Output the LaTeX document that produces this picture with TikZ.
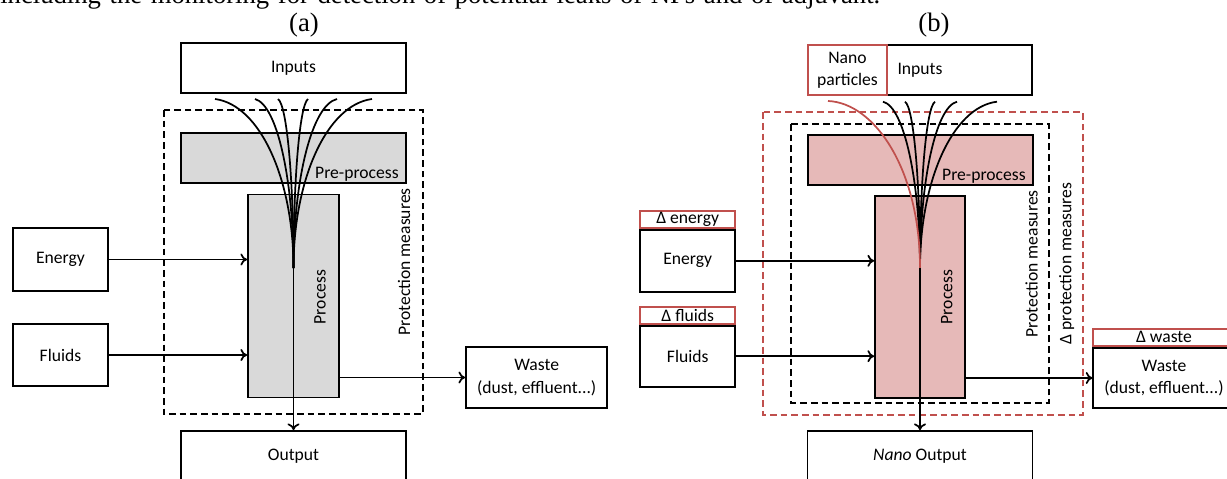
\documentclass[tikz,border=0pt]{standalone}
\usepackage{fontspec}
\setmainfont{Carlito}
\newfontfamily\serifhead{Liberation Serif}
\usetikzlibrary{positioning,calc,arrows.meta}
\newcommand{\diagfont}{\fontsize{13.2pt}{16.8pt}\selectfont}
\newcommand{\headfont}{\serifhead\fontsize{20pt}{24pt}\selectfont}
\definecolor{procgray}{HTML}{D9D9D9}
\definecolor{nanopink}{HTML}{E6B9B8}
\definecolor{nanored}{HTML}{C0504D}

\tikzset{
  wbox/.style={draw, line width=1.4pt, inner sep=0pt, align=center, font=\diagfont},
  redhead/.style={draw=nanored, line width=1.4pt, fill=white, inner sep=0pt,
                  align=center, font=\diagfont},
  flow/.style={line width=1.3pt},
  nanoflow/.style={line width=1.3pt, draw=nanored},
  feed/.style={line width=1.3pt, -{To[length=5pt,width=9pt]}},
  protect/.style={line width=1.3pt, dash pattern=on 5pt off 3pt},
  vtext/.style={rotate=90, font=\diagfont, inner sep=0pt}
}

\begin{document}
\begin{tikzpicture}[x=0.75pt,y=-0.75pt]
  \useasboundingbox (0,0) rectangle (1227,478);
  \clip (0,0) rectangle (1227,478);

  % cut-off caption line and panel headings
  \node[font=\headfont, anchor=base west, inner sep=0pt] (caption) at (0,4)
    {\makebox[660pt][s]{including the monitoring for detection of potential leaks of NPs and of adjuvant.}};
  \node[font=\headfont] (hdA) at (304,25) {(a)};
  \node[font=\headfont] (hdB) at (934,25) {(b)};

  % ---------------- panel (a) ----------------
  \draw[protect] (164,110) rectangle (422.7,414.3);
  \node[vtext] (protAlbl) at (404,262) {Protection measures};

  \node[wbox, minimum width=168.75pt, minimum height=37.5pt] (inA) at (293.5,68) {Inputs};
  \node[wbox, fill=procgray, minimum width=168.75pt, minimum height=37.5pt] (preA) at (293.5,158) {};
  \node[font=\diagfont, anchor=south east, inner sep=2pt] (preAlbl)
    at ([xshift=-4pt]preA.south east) {Pre-process};
  \node[wbox, fill=procgray, minimum width=68.25pt, minimum height=152.25pt] (procA) at (293.5,296) {};
  \node[vtext] (procAlbl) at (320,297) {Process};
  \node[wbox, minimum width=71.25pt, minimum height=47.25pt] (enA) at (60.5,259.5) {Energy};
  \node[wbox, minimum width=71.25pt, minimum height=46.5pt] (flA) at (60.5,355) {Fluids};
  \node[wbox, minimum width=106pt, minimum height=45.75pt] (wsA) at (536.7,377.5)
    {Waste\\(dust, effluent...)};
  \node[wbox, minimum width=168.75pt, minimum height=37.5pt] (outA) at (293.5,456) {Output};

  \coordinate (cA) at (293.5,268);
  \foreach \sx in {215,255,278,308,337,372}{%
    \pgfmathsetmacro{\cx}{\sx+0.58*(293.5-\sx)}% pull towards the middle
    \coordinate (srcA) at (\sx,99);
    \draw[flow] (srcA) .. controls (\cx,105) and (293.5,180) .. (cA);
  }
  \draw[feed] (cA) -- (outA.north);
  \draw[feed] (enA.east) -- (enA.east -| procA.west);
  \draw[feed] (flA.east) -- (flA.east -| procA.west);
  \draw[feed] (procA.east |- wsA.west) -- (wsA.west);

  % ---------------- panel (b) ----------------
  \draw[protect, nanored] (763.3,112.3) rectangle (1082.7,415);
  \draw[protect] (791,124) rectangle (1049,402.7);
  \node[vtext] (protBlbl) at (1031.7,264) {Protection measures};
  \node[vtext] (dprotBlbl) at (1066.7,263.5) {Δ protection measures};

  \node[wbox, minimum width=168pt, minimum height=37.5pt] (inB) at (920,70) {Inputs};
  \node[redhead, minimum width=59.25pt, minimum height=37.5pt] (nanoB) at (847.5,70)
    {Nano\\particles};
  \node[wbox, fill=nanopink, minimum width=168.75pt, minimum height=37.5pt] (preB) at (920.5,160) {};
  \node[font=\diagfont, anchor=south east, inner sep=2pt] (preBlbl)
    at ([xshift=-4pt]preB.south east) {Pre-process};
  \node[wbox, fill=nanopink, minimum width=67.5pt, minimum height=151.5pt] (procB) at (920,297) {};
  \node[vtext] (procBlbl) at (946.7,297) {Process};
  \node[wbox, minimum width=71.5pt, minimum height=46.3pt] (enB) at (687.7,260.8) {Energy};
  \node[wbox, minimum width=71.5pt, minimum height=45.75pt] (flB) at (687.7,356.2) {Fluids};
  \node[wbox, minimum width=106pt, minimum height=45.5pt] (wsB) at (1164,378)
    {Waste\\(dust, effluent...)};
  \node[wbox, minimum width=168.75pt, minimum height=37.5pt] (outB) at (920,456)
    {\textit{Nano} Output};

  \coordinate (cB) at (920,268);
  \foreach \sx in {883,905,935,957,997}{%
    \pgfmathsetmacro{\cx}{\sx+0.58*(920-\sx)}
    \coordinate (srcB) at (\sx,101.7);
    \draw[flow] (srcB) .. controls (\cx,107) and (920,182) .. (cB);
  }
  \coordinate (srcNano) at (828,101);
  \draw[nanoflow] (srcNano) .. controls (875,103) and (920,170) .. (cB);
  \draw[feed] (cB) -- (outB.north);
  \draw[feed] (enB.east) -- (enB.east -| procB.west);
  \draw[feed] (flB.east) -- (flB.east -| procB.west);
  \draw[feed] (procB.east |- wsB.west) -- (wsB.west);

  % red delta headers
  \node[redhead, minimum width=71.5pt, minimum height=12.75pt, anchor=south] (dEnB) at (enB.north) {Δ energy};
  \node[redhead, minimum width=71.5pt, minimum height=12.75pt, anchor=south] (dFlB) at (flB.north) {Δ fluids};
  \node[redhead, minimum width=106pt, minimum height=12.75pt, anchor=south] (dWsB) at (wsB.north) {Δ waste};
\end{tikzpicture}
\end{document}
